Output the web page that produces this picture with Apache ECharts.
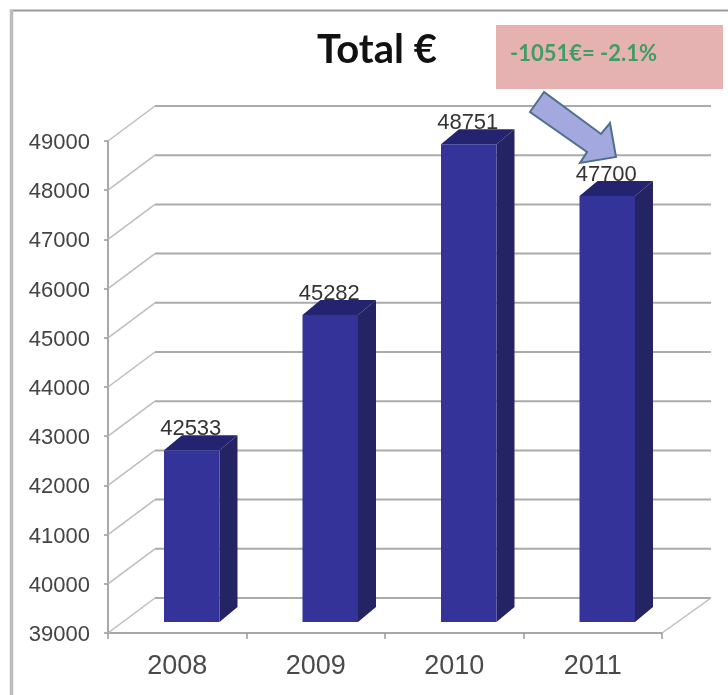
<!DOCTYPE html>
<html><head><meta charset="utf-8">
<style>html,body{margin:0;padding:0;background:#fff}#c{width:728px;height:695px}</style>
<script src="https://cdn.jsdelivr.net/npm/echarts@6/dist/echarts.min.js"></script>
</head><body><div id="c"></div>
<script>
const categories = ['2008', '2009', '2010', '2011'];
const totals = [42533, 45282, 48751, 47700];
const yTicks = [39000, 40000, 41000, 42000, 43000, 44000, 45000, 46000, 47000, 48000, 49000];
const titleText = 'Total €';
const noteText = '-1051€= -2.1%';

const wallDx = 47, wallDy = -35;
const barShiftX = 14.5, barBaseDy = -11, barTopDy = -9, barW = 55.5, sideDx = 18, sideDy = -15;

const chart = echarts.init(document.getElementById('c'), null, {renderer: 'canvas'});

function renderWall(params, api) {
  const cs = params.coordSys;
  const y = api.coord([0, api.value(0)])[1];
  const x0 = cs.x, x1 = cs.x + cs.width;
  const children = [
    {type: 'line', shape: {x1: x0, y1: y, x2: x0 + wallDx, y2: y + wallDy}, style: {stroke: '#bdbdbd', lineWidth: 1.5}},
    {type: 'line', shape: {x1: x0 + wallDx, y1: y + wallDy, x2: x1 + wallDx + 2, y2: y + wallDy}, style: {stroke: '#ababab', lineWidth: 2}}
  ];
  if (params.dataIndex === 0) {
    children.push({type: 'line', shape: {x1: x1, y1: y, x2: x1 + wallDx + 2, y2: y + wallDy}, style: {stroke: '#bdbdbd', lineWidth: 1.5}});
  }
  return {type: 'group', children};
}

function renderBar(params, api) {
  const top = api.coord([api.value(0), api.value(1)]);
  const base = api.coord([api.value(0), 39000]);
  const l = top[0] + barShiftX - barW / 2, r = l + barW;
  const yB = base[1] + barBaseDy;
  const yFT = top[1] + barTopDy;
  const poly = (pts, fill) => ({type: 'polygon', shape: {points: pts}, style: {fill}});
  return {type: 'group', children: [
    {type: 'text', style: {text: String(api.value(1)), x: top[0] + barShiftX - 1, y: yFT + sideDy - 6,
      align: 'center', verticalAlign: 'middle', fontFamily: 'Liberation Sans', fontSize: 22, fill: '#333'}},
    poly([[l, yFT], [l + sideDx, yFT + sideDy], [r + sideDx, yFT + sideDy], [r, yFT]], '#232370'),
    poly([[r, yFT], [r + sideDx, yFT + sideDy], [r + sideDx, yB + sideDy], [r, yB]], '#242465'),
    poly([[l, yFT], [r, yFT], [r, yB], [l, yB]], '#33339a')
  ]};
}

chart.setOption({
  animation: false,
  backgroundColor: '#fff',
  grid: {left: 108, right: 66, top: 141, bottom: 62},
  xAxis: {
    type: 'category', data: categories,
    axisLine: {lineStyle: {color: '#a8a8a8', width: 2}},
    axisTick: {show: true, length: 6, lineStyle: {color: '#999', width: 1.5}},
    axisLabel: {fontFamily: 'Liberation Sans', fontSize: 27, color: '#4a4a4a', margin: 20}
  },
  yAxis: {
    type: 'value', min: 39000, max: 49000, interval: 1000,
    axisLine: {show: true, lineStyle: {color: '#a8a8a8', width: 2}},
    axisTick: {show: true, length: 4, lineStyle: {color: '#999', width: 1.5}},
    splitLine: {show: false},
    axisLabel: {fontFamily: 'Liberation Sans', fontSize: 22, color: '#444', margin: 18, verticalAlign: 'top', lineHeight: 4, formatter: v => String(v)}
  },
  graphic: [
    {type: 'line', z: 100, shape: {x1: 10, y1: 10.5, x2: 728, y2: 10.5}, style: {stroke: '#9a9a9a', lineWidth: 2}},
    {type: 'line', z: 100, shape: {x1: 11.5, y1: 10, x2: 11.5, y2: 695}, style: {stroke: '#bcbcbc', lineWidth: 3.5}},
    {type: 'text', z: 100, style: {text: titleText, x: 377, y: 50, align: 'center', verticalAlign: 'middle',
      fontFamily: 'Lato', fontWeight: 'bold', fontSize: 40, fill: '#111'}},
    {type: 'rect', z: 100, shape: {x: 496, y: 25, width: 227, height: 64}, style: {fill: '#e6b1b1'}},
    {type: 'text', z: 101, style: {text: noteText, x: 510, y: 54, align: 'left', verticalAlign: 'middle',
      fontFamily: 'Lato', fontWeight: 'bold', fontSize: 22, fill: '#3f9c62'}},
    {type: 'polygon', z: 102, shape: {points: [[544, 92], [530, 112], [587, 152], [580, 163], [616, 157], [610, 123], [601, 134]]},
      style: {fill: '#a3a9de', stroke: '#4f6f8f', lineWidth: 2}}
  ],
  series: [
    {type: 'custom', coordinateSystem: 'cartesian2d', silent: true, clip: false, z: 1,
      encode: {y: 0}, data: yTicks.map(v => [v]), renderItem: renderWall},
    {type: 'custom', coordinateSystem: 'cartesian2d', silent: true, clip: false, z: 2,
      encode: {x: 0, y: 1}, data: categories.map((c, i) => [c, totals[i]]), renderItem: renderBar}
  ]
});
</script></body></html>
